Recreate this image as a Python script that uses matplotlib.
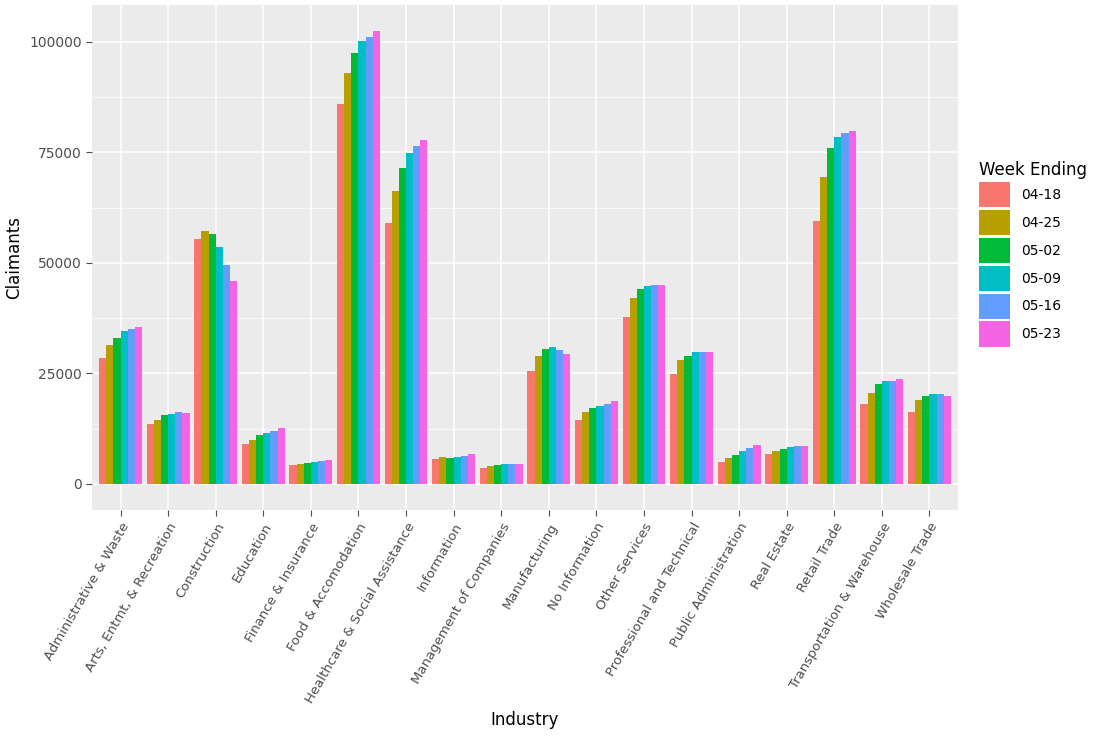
import matplotlib
matplotlib.use("Agg")
import matplotlib.pyplot as plt
import numpy as np

industries = ["Administrative & Waste","Arts, Entmt, & Recreation","Construction","Education",
 "Finance & Insurance","Food & Accomodation","Healthcare & Social Assistance","Information",
 "Management of Companies","Manufacturing","No Information","Other Services",
 "Professional and Technical","Public Administration","Real Estate","Retail Trade",
 "Transportation & Warehouse","Wholesale Trade"]
weeks = ["04-18","04-25","05-02","05-09","05-16","05-23"]
w0418 = [28500,13500,55500,9000,4200,86000,59000,5600,3500,25500,14500,37800,24800,5000,6800,59500,18000,16200]
w0425 = [31500,14500,57300,10000,4500,93000,66300,6000,4000,29000,16300,42000,28000,5800,7500,69500,20500,19000]
w0502 = [33000,15500,56500,11000,4800,97500,71500,5800,4300,30500,17200,44000,29000,6500,8000,76000,22700,20000]
w0509 = [34500,15800,53500,11500,5000,100200,74800,6100,4400,31000,17700,44700,29800,7400,8300,78500,23300,20300]
w0516 = [35000,16200,49500,12000,5100,101200,76500,6400,4400,30300,18000,45000,29900,8200,8500,79500,23300,20300]
w0523 = [35500,16000,45800,12700,5300,102500,77700,6800,4400,29500,18700,45100,29900,8900,8600,79800,23800,20000]
series = [w0418,w0425,w0502,w0509,w0516,w0523]
colors = ["#F8766D","#B79F00","#00BA38","#00BFC4","#619CFF","#F564E3"]

fig = plt.figure(figsize=(11.06,7.48), dpi=100)
ax = fig.add_axes([92/1106, 1-510/748, (958-92)/1106, (510-5)/748])
ax.set_facecolor("#EBEBEB")
x = np.arange(len(industries))
bw = 0.9/6
for i,(s,c) in enumerate(zip(series,colors)):
    ax.bar(x - 0.45 + bw*(i+0.5), s, width=bw, color=c, label=weeks[i], zorder=3)
ax.set_xlim(-0.6, len(industries)-0.4)
ax.set_ylim(-5900, 108350)
ax.set_yticks([0,25000,50000,75000,100000])
ax.set_yticks([12500,37500,62500,87500], minor=True)
ax.set_xticks(x)
ax.set_xticklabels(industries, rotation=60, ha="right", rotation_mode="anchor", fontsize=9.5, color="#4D4D4D")
ax.tick_params(axis="y", labelsize=10, colors="#4D4D4D", length=4)
ax.tick_params(axis="y", which="minor", length=0)
ax.tick_params(axis="x", colors="#4D4D4D", length=4)
ax.grid(True, which="major", color="white", lw=1.1, zorder=0)
ax.grid(True, which="minor", axis="y", color="white", lw=0.5, zorder=0)
for sp in ax.spines.values():
    sp.set_visible(False)
ax.set_xlabel("Industry", fontsize=12)
ax.set_ylabel("Claimants", fontsize=12)
leg = ax.legend(title="Week Ending", loc="upper left", bbox_to_anchor=(1.01, 0.715), frameon=False,
                fontsize=10, title_fontsize=12, handlelength=2.2, handleheight=2.4, labelspacing=0.2, alignment="left")
fig.savefig("out.png", dpi=100)
